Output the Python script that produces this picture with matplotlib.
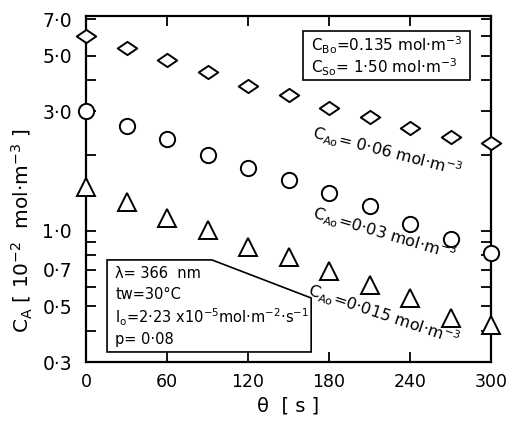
import matplotlib
matplotlib.use("Agg")
import matplotlib.pyplot as plt
from matplotlib.path import Path
from matplotlib.patches import Polygon, Rectangle
from matplotlib.ticker import FixedLocator, NullFormatter

theta = [0, 30, 60, 90, 120, 150, 180, 210, 240, 270, 300]
ca_006 = [6.0, 5.35, 4.8, 4.3, 3.8, 3.48, 3.08, 2.86, 2.57, 2.38, 2.25]
ca_003 = [3.0, 2.61, 2.32, 2.0, 1.78, 1.60, 1.42, 1.26, 1.07, 0.93, 0.82]
ca_0015 = [1.50, 1.30, 1.13, 1.01, 0.86, 0.79, 0.69, 0.61, 0.54, 0.45, 0.42]

xticks = [0, 60, 120, 180, 240, 300]
yticks_major = [0.3, 0.5, 0.7, 1.0, 3.0, 5.0, 7.0]
ytick_labels = ["0·3", "0·5", "0·7", "1·0", "3·0", "5·0", "7·0"]
yticks_minor = [0.4, 0.6, 0.8, 0.9, 2.0, 4.0, 6.0]

plt.rcParams['font.family'] = ['DejaVu Sans']
plt.rcParams['mathtext.fontset'] = 'dejavusans'

fig = plt.figure(figsize=(5.07, 4.21), dpi=100)
ax = fig.add_axes([86/507, 1-362/421, 405/507, 346/421])

diamond = Path([(-1, 0), (0, 0.68), (1, 0), (0, -0.68), (-1, 0)],
               [Path.MOVETO, Path.LINETO, Path.LINETO, Path.LINETO, Path.CLOSEPOLY])

kw = dict(linestyle='none', markerfacecolor='white', markeredgecolor='black',
          markeredgewidth=1.4, clip_on=False, zorder=5)
ax.plot(theta, ca_006, marker=diamond, markersize=14, **kw)
ax.plot(theta, ca_003, marker='o', markersize=11, **kw)
ax.plot(theta, ca_0015, marker='^', markersize=12.5, **kw)

ax.set_yscale('log')
ax.set_xlim(0, 300)
ax.set_ylim(0.3, 7.2)
ax.yaxis.set_major_locator(FixedLocator(yticks_major))
ax.set_yticklabels(ytick_labels)
ax.yaxis.set_minor_locator(FixedLocator(yticks_minor))
ax.yaxis.set_minor_formatter(NullFormatter())
ax.set_xticks(xticks)
ax.set_xticklabels([str(t) for t in xticks])

for s in ax.spines.values():
    s.set_linewidth(1.6)
ax.tick_params(axis='both', which='both', direction='in', top=True, right=True,
               width=1.3, length=7, labelsize=13.5)
ax.tick_params(axis='y', which='both', pad=10)
ax.tick_params(axis='x', which='both', pad=8, labelsize=12.5)

ax.set_xlabel("θ  [ s ]", fontsize=14)
ax.xaxis.set_label_coords(0.5, -0.1)
ax.set_ylabel(r"C$_\mathrm{A}$ [ 10$^{-2}$  mol·m$^{-3}$ ]", fontsize=14.5)
ax.yaxis.set_label_coords(-0.125, 0.38)

# top-right box
ax.add_patch(Rectangle((0.536, 0.815), 0.412, 0.142, transform=ax.transAxes,
                       fill=False, edgecolor='black', linewidth=1.2, zorder=6))
ax.text(0.555, 0.916, r"C$_\mathrm{Bo}$=0.135 mol·m$^{-3}$", transform=ax.transAxes,
        fontsize=11, va='center', ha='left')
ax.text(0.555, 0.853, r"C$_\mathrm{So}$= 1·50 mol·m$^{-3}$", transform=ax.transAxes,
        fontsize=11, va='center', ha='left')

# lower-left box with cut corner
ax.add_patch(Polygon([(0.052, 0.295), (0.311, 0.295), (0.556, 0.185),
                      (0.556, 0.029), (0.052, 0.029)], closed=True,
                     transform=ax.transAxes, fill=True, facecolor='white',
                     edgecolor='black', linewidth=1.2, zorder=6))
box_lines = ["λ= 366  nm", "tw=30°C",
             r"I$_\mathrm{o}$=2·23 x10$^{-5}$mol·m$^{-2}$·s$^{-1}$", "p= 0·08"]
for yy, t in zip([0.257, 0.194, 0.130, 0.064], box_lines):
    ax.text(0.072, yy, t, transform=ax.transAxes, fontsize=10.5,
            va='center', ha='left', zorder=7)

# curve labels
ax.text(0.560, 0.662, r"C$_\mathrm{Ao}$= 0·06 mol·m$^{-3}$", transform=ax.transAxes,
        fontsize=11.5, rotation=-14.5, rotation_mode='anchor', va='center', ha='left')
ax.text(0.560, 0.431, r"C$_\mathrm{Ao}$=0·03 mol·m$^{-3}$", transform=ax.transAxes,
        fontsize=11.5, rotation=-16.5, rotation_mode='anchor', va='center', ha='left')
ax.text(0.548, 0.208, r"C$_\mathrm{Ao}$=0·015 mol·m$^{-3}$", transform=ax.transAxes,
        fontsize=11.5, rotation=-18.5, rotation_mode='anchor', va='center', ha='left')

fig.savefig("out.png", dpi=100)
